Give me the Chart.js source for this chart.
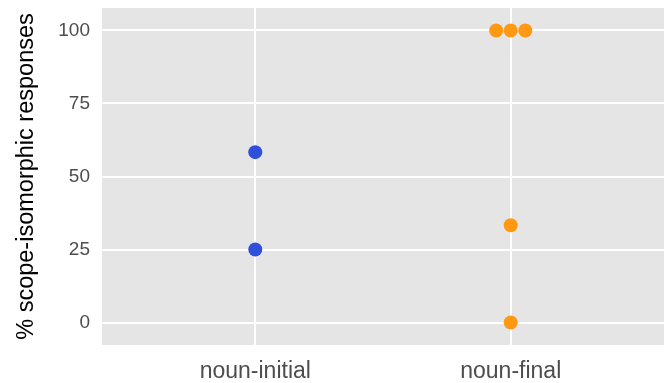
<!DOCTYPE html>
<html>
<head>
<meta charset="utf-8">
<script src="https://cdn.jsdelivr.net/npm/chart.js@4"></script>
<style>
  html, body { margin: 0; padding: 0; background: #fff; }
  #wrap { width: 664px; height: 383px; }
</style>
</head>
<body>
<div id="wrap"><canvas id="scopeChart" width="664" height="383"></canvas></div>
<script>
// data
const categories = ['noun-initial', 'noun-final'];
const initialValues = [58.33, 25];
const finalValues = [100, 100, 100, 33.33, 0];
// horizontal dodge for overlapping points (in category units)
const finalDodge = [-0.057, 0, 0.057, 0, 0];
const yTicks = [0, 25, 50, 75, 100];

const initialPoints = initialValues.map(v => ({ x: 1, y: v }));
const finalPoints = finalValues.map((v, i) => ({ x: 2 + finalDodge[i], y: v }));

const panelBg = {
  id: 'panelBg',
  beforeDraw(chart) {
    const a = chart.chartArea;
    const ctx = chart.ctx;
    ctx.save();
    ctx.fillStyle = '#e5e5e5';
    ctx.fillRect(a.left, a.top, a.right - a.left, a.bottom - a.top);
    ctx.restore();
  }
};

const ctx = document.getElementById('scopeChart').getContext('2d');

new Chart(ctx, {
  type: 'scatter',
  data: {
    datasets: [
      {
        data: initialPoints,
        backgroundColor: '#3050dc',
        borderWidth: 0,
        pointRadius: 7,
        pointHoverRadius: 7
      },
      {
        data: finalPoints,
        backgroundColor: '#ff9914',
        borderWidth: 0,
        pointRadius: 7,
        pointHoverRadius: 7
      }
    ]
  },
  options: {
    responsive: false,
    animation: false,
    layout: { autoPadding: false, padding: { top: 8, right: 0, left: 0, bottom: 0 } },
    plugins: {
      legend: { display: false },
      tooltip: { enabled: false }
    },
    scales: {
      x: {
        type: 'linear',
        min: 0.4,
        max: 2.6,
        afterBuildTicks: axis => { axis.ticks = categories.map((c, i) => ({ value: i + 1 })); },
        afterFit: axis => {
          axis.height = 38;
          axis.paddingLeft = 0;
          axis.paddingRight = 0;
        },
        grid: { color: '#ffffff', lineWidth: 2, drawTicks: false },
        border: { display: false },
        ticks: {
          padding: 13,
          color: '#4d4d4d',
          font: { family: 'Liberation Sans', size: 23 },
          callback: v => categories[Math.round(v) - 1]
        }
      },
      y: {
        min: -7.7,
        max: 107.7,
        afterBuildTicks: axis => { axis.ticks = yTicks.map(v => ({ value: v })); },
        afterFit: axis => {
          axis.width = 102;
          axis.paddingTop = 0;
          axis.paddingBottom = 0;
        },
        grid: { color: '#ffffff', lineWidth: 2, drawTicks: false },
        border: { display: false },
        ticks: {
          padding: 12,
          color: '#4d4d4d',
          font: { family: 'Liberation Sans', size: 19 }
        },
        title: {
          display: true,
          text: '% scope-isomorphic responses',
          color: '#000000',
          font: { family: 'Liberation Sans', size: 23.5 },
          padding: { top: 12, bottom: 0 }
        }
      }
    }
  },
  plugins: [panelBg]
});
</script>
</body>
</html>
